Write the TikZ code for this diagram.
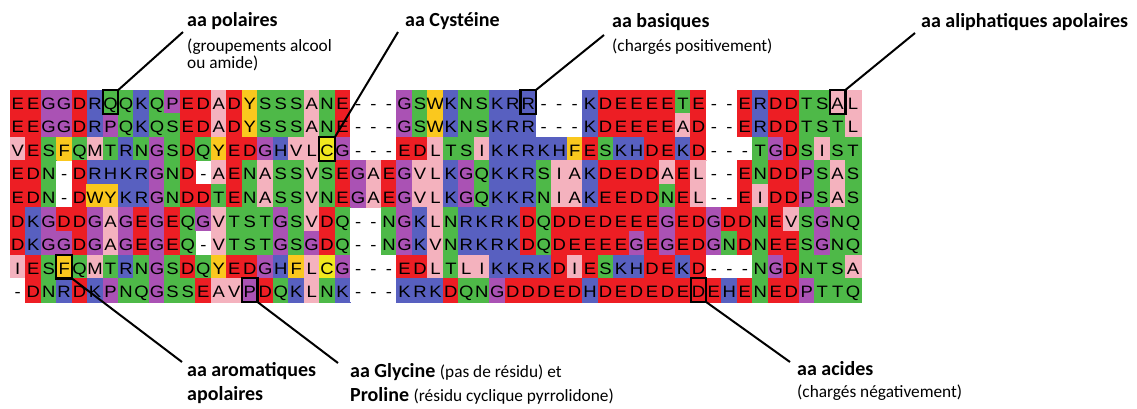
\documentclass[tikz,border=0pt]{standalone}
\usepackage{fontspec}
\setmainfont{Carlito}
\newfontfamily\seqfont[FakeStretch=1.12]{Liberation Sans}
\definecolor{cacid}{RGB}{237,30,36}
\definecolor{cbasic}{RGB}{88,96,192}
\definecolor{cpolar}{RGB}{78,185,72}
\definecolor{cgp}{RGB}{170,82,180}
\definecolor{caliph}{RGB}{244,178,190}
\definecolor{carom}{RGB}{250,200,30}
\definecolor{ccys}{RGB}{240,232,30}
\tikzset{
  cell/.style={minimum width=15.6pt, minimum height=23.7pt, inner sep=0pt, outer sep=0pt,
    line width=0.4pt, text height=17.5pt, text depth=2.5pt,
    font=\seqfont\fontsize{16.5}{17}\selectfont},
  acid/.style={fill=cacid, draw=cacid},
  basic/.style={fill=cbasic, draw=cbasic},
  polar/.style={fill=cpolar, draw=cpolar},
  gp/.style={fill=cgp, draw=cgp},
  aliph/.style={fill=caliph, draw=caliph},
  arom/.style={fill=carom, draw=carom},
  cys/.style={fill=ccys, draw=ccys},
  res D/.style={acid}, res E/.style={acid},
  res K/.style={basic}, res R/.style={basic}, res H/.style={basic},
  res S/.style={polar}, res T/.style={polar}, res N/.style={polar}, res Q/.style={polar},
  res G/.style={gp}, res P/.style={gp},
  res A/.style={aliph}, res V/.style={aliph}, res L/.style={aliph}, res I/.style={aliph}, res M/.style={aliph},
  res F/.style={arom}, res W/.style={arom}, res Y/.style={arom},
  res C/.style={cys},
  res -/.style={fill=white},
  hlbox/.style={draw=black, line width=2.2pt},
  leader/.style={draw=black, line width=2pt},
  lb/.style={inner sep=0pt, anchor=base west, font=\bfseries\fontsize{20}{24}\selectfont},
  lr/.style={inner sep=0pt, anchor=base west, font=\fontsize{17.3}{20}\selectfont},
}
\begin{document}
\begin{tikzpicture}[x=1pt, y=-1pt]
\fill[white] (0,0) rectangle (1137,408);
\useasboundingbox (0,0) rectangle (1137,408);
\foreach \rr/\s in {
 1/{E,E,G,G,D,R,Q,Q,K,Q,P,E,D,A,D,Y,S,S,S,A,N,E,-,-,-,G,S,W,K,N,S,K,R,R,-,-,-,K,D,E,E,E,E,T,E,-,-,E,R,D,D,T,S,A,L},
 2/{E,E,G,G,D,R,P,Q,K,Q,S,E,D,A,D,Y,S,S,S,A,N,E,-,-,-,G,S,W,K,N,S,K,R,R,-,-,-,K,D,E,E,E,E,A,D,-,-,E,R,D,D,T,S,T,L},
 3/{V,E,S,F,Q,M,T,R,N,G,S,D,Q,Y,E,D,G,H,V,L,C,G,-,-,-,E,D,L,T,S,I,K,K,R,K,H,F,E,S,K,H,D,E,K,D,-,-,-,T,G,D,S,I,S,T},
 4/{E,D,N,-,D,R,H,K,R,G,N,D,-,A,E,N,A,S,S,V,S,E,G,A,E,G,V,L,K,G,Q,K,K,R,S,I,A,K,D,E,D,D,A,E,L,-,-,E,N,D,D,P,S,A,S},
 5/{E,D,N,-,D,W,Y,K,R,G,N,D,D,T,E,N,A,S,S,V,N,E,G,A,E,G,V,L,K,G,Q,K,K,R,N,I,A,K,E,E,D,D,N,E,L,-,-,E,I,D,D,P,S,A,S},
 6/{D,K,G,D,D,G,A,G,E,G,E,Q,G,V,T,S,T,G,S,V,D,Q,-,-,N,G,K,L,N,R,K,R,K,D,Q,D,D,E,D,E,E,E,G,E,D,G,D,D,N,E,V,S,G,N,Q},
 7/{D,K,G,G,D,G,A,G,E,G,E,Q,-,V,T,S,T,G,S,G,D,Q,-,-,N,G,K,V,N,R,K,R,K,D,Q,D,E,E,E,E,G,E,G,E,D,G,N,D,N,E,E,S,G,N,Q},
 8/{I,E,S,F,Q,M,T,R,N,G,S,D,Q,Y,E,D,G,H,F,L,C,G,-,-,-,E,D,L,T,L,I,K,K,R,K,D,I,E,S,K,H,D,E,K,D,-,-,-,N,G,D,N,T,S,A},
 9/{-,D,N,R,D,K,P,N,Q,G,S,S,E,A,V,P,D,Q,K,L,N,K,-,-,-,K,R,K,D,Q,N,G,D,D,D,E,D,H,D,E,D,E,D,E,D,E,H,E,N,E,D,P,T,T,Q}}{
  \foreach \ch [count=\cc] in \s {
    \node[cell, res \ch] (c\rr-\cc) at ({10+(\cc-0.5)*15.47},{90+(\rr-0.5)*23.55}) {\ch};
  }
}
% highlighted residues
\foreach \n in {c1-7, c3-21, c1-34, c1-54, c8-4, c9-16, c9-45}{
  \draw[hlbox] (\n.south west) rectangle (\n.north east);
}
% labels
\node[lb] (polT) at (187,26.5) {aa polaires};
\node[lr] (polA) at (187,51.5) {(groupements alcool};
\node[lr] (polB) at (187,68.5) {ou amide)};
\node[lb] (cysT) at (405,26.5) {aa Cystéine};
\node[lb] (basT) at (612,27) {aa basiques};
\node[lr] (basA) at (612,51.5) {(chargés positivement)};
\node[lb] (aliT) at (921,27) {aa aliphatiques apolaires};
\node[lb] (aroT) at (187,376) {aa aromatiques};
\node[lb] (aroB) at (187,400.5) {apolaires};
\node[lb] (glyT) at (350,377) {aa Glycine\ \mdseries\fontsize{17.3}{20}\selectfont(pas de résidu) et};
\node[lb] (proT) at (350,401.5) {Proline\ \mdseries\fontsize{17.3}{20}\selectfont(résidu cyclique pyrrolidone)};
\node[lb] (acT) at (797,375) {aa acides};
\node[lr] (acA) at (797,397) {(chargés négativement)};
% leader ends
\coordinate (lpol) at (183,32);
\coordinate (lcys) at (398,32);
\coordinate (lbas) at (604,35);
\coordinate (lali) at (915,33);
\coordinate (laro) at (182,362);
\coordinate (lgly) at (338,363);
\coordinate (lac) at (790,362);
\draw[leader] (c1-7.north east) -- (lpol);
\draw[leader] (c3-21.north east) -- (lcys);
\draw[leader] (c1-34.north east) -- (lbas);
\draw[leader] (c1-54.north east) -- (lali);
\draw[leader] (c8-4.south east) -- (laro);
\draw[leader] (c9-16.south east) -- (lgly);
\draw[leader] (c9-45.south east) -- (lac);
\end{tikzpicture}
\end{document}
